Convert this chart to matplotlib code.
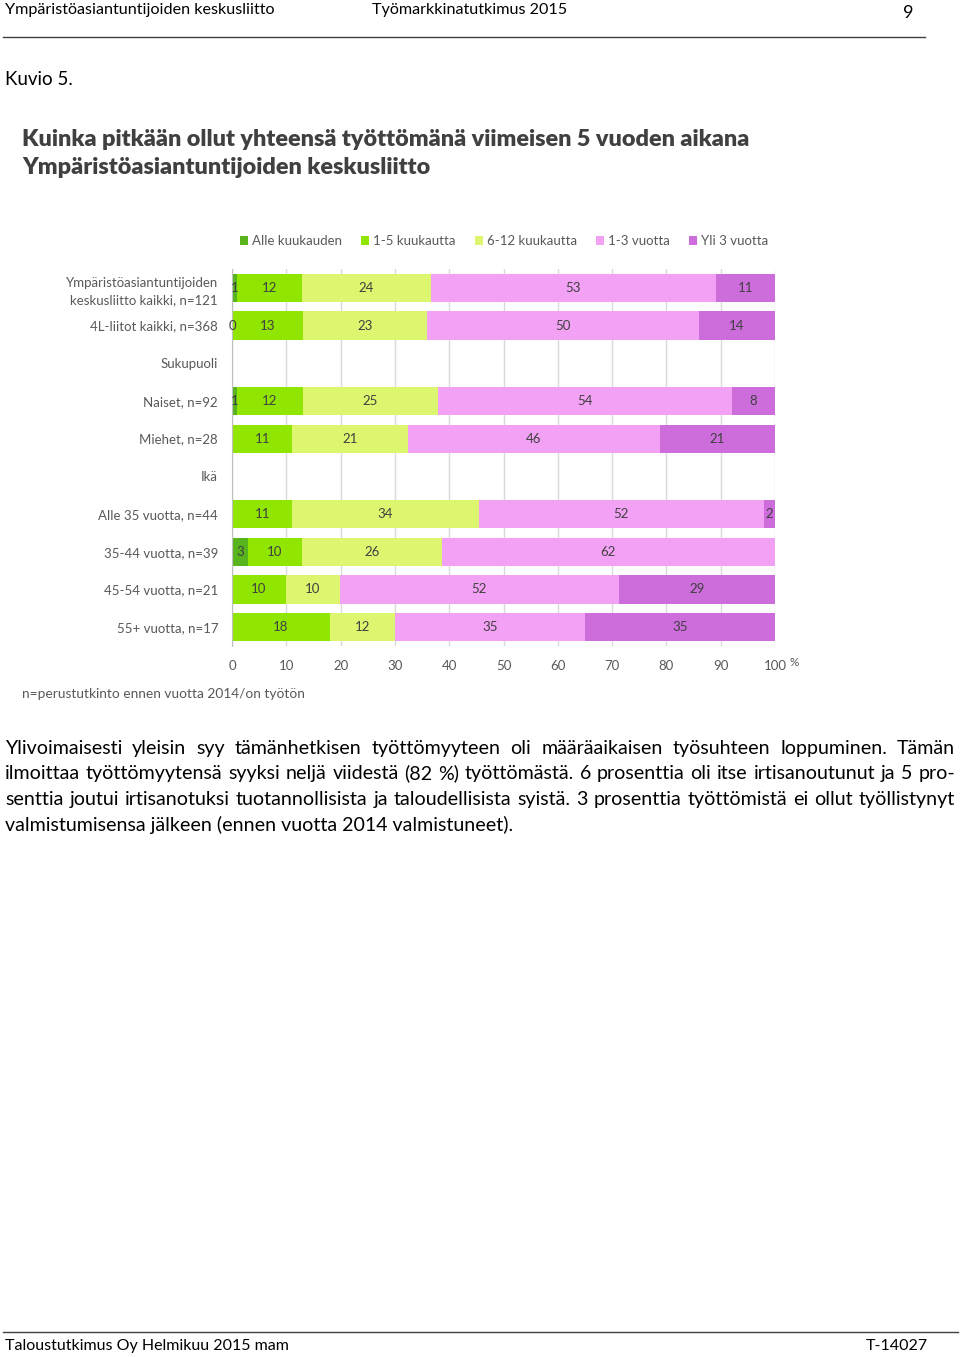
import matplotlib
matplotlib.use("Agg")
import matplotlib.pyplot as plt
from matplotlib.patches import Patch
from matplotlib.lines import Line2D
import numpy as np

plt.rcParams['font.family'] = ['Lato', 'DejaVu Sans']

# data, rows top to bottom; None = no segment / no label
rows = ["Ympäristöasiantuntijoiden\nkeskusliitto kaikki, n=121",
        "4L-liitot kaikki, n=368",
        "Sukupuoli",
        "Naiset, n=92",
        "Miehet, n=28",
        "Ikä",
        "Alle 35 vuotta, n=44",
        "35-44 vuotta, n=39",
        "45-54 vuotta, n=21",
        "55+ vuotta, n=17"]
series = ["Alle kuukauden", "1-5 kuukautta", "6-12 kuukautta", "1-3 vuotta", "Yli 3 vuotta"]
alle_kk = [1, 0, None, 1, None, None, None, 3, None, None]
kk_1_5 = [12, 13, None, 12, 11, None, 11, 10, 10, 18]
kk_6_12 = [24, 23, None, 25, 21, None, 34, 26, 10, 12]
v_1_3 = [53, 50, None, 54, 46, None, 52, 62, 52, 35]
yli_3 = [11, 14, None, 8, 21, None, 2, None, 29, 35]
colors = ["#58b41c", "#90e600", "#dcf76f", "#f2a1f4", "#cc6ddb"]
xticks = [0, 10, 20, 30, 40, 50, 60, 70, 80, 90, 100]

W, H = 960, 1357
fig = plt.figure(figsize=(W / 100, H / 100), dpi=100)

def fx(px):
    return px / W

def fy(py):
    return 1 - py / H

text_col = "#000000"
gray = "#595959"

# page header / footer
fig.text(fx(5), fy(14), "Ympäristöasiantuntijoiden keskusliitto", fontsize=11.6, va="baseline", color=text_col)
fig.text(fx(372), fy(14), "Työmarkkinatutkimus 2015", fontsize=11.6, va="baseline", color=text_col)
fig.text(fx(908), fy(18), "9", fontsize=13, va="baseline", ha="center", color=text_col)
fig.add_artist(Line2D([fx(3), fx(925)], [fy(37), fy(37)], color="#404040", lw=1))
fig.text(fx(5), fy(85), "Kuvio 5.", fontsize=13.5, va="baseline", color=text_col)

fig.add_artist(Line2D([fx(3), fx(958)], [fy(1332), fy(1332)], color="#404040", lw=1))
fig.text(fx(5), fy(1350), "Taloustutkimus Oy Helmikuu 2015 mam", fontsize=11.5, va="baseline", color=text_col)
fig.text(fx(928), fy(1350), "T-14027", fontsize=11.5, va="baseline", ha="right", color=text_col)

# chart title
title_col = "#404040"
fig.text(fx(22), fy(139), "Kuinka pitkään ollut yhteensä työttömänä viimeisen 5 vuoden aikana",
         fontsize=16.8, fontweight="heavy", va="center", color=title_col)
fig.text(fx(22), fy(167), "Ympäristöasiantuntijoiden keskusliitto",
         fontsize=16.8, fontweight="heavy", va="center", color=title_col)

# bars
ax = fig.add_axes([fx(232), fy(646), fx(775) - fx(232), fy(269) - fy(646)])
data = np.array([[np.nan if v is None else v for v in s]
                 for s in [alle_kk, kk_1_5, kk_6_12, v_1_3, yli_3]], dtype=float)
totals = np.nansum(data, axis=0)
y = np.arange(len(rows))
left = np.zeros(len(rows))
for i, name in enumerate(series):
    vals = data[i]
    pct = np.where(totals > 0, np.nan_to_num(vals) / np.where(totals > 0, totals, 1) * 100, 0)
    ax.barh(y, pct, left=left, height=0.75, color=colors[i], label=name, zorder=2)
    for j in range(len(rows)):
        if not np.isnan(vals[j]):
            ax.text(left[j] + pct[j] / 2, y[j], f"{int(vals[j])}", ha="center", va="center",
                    fontsize=9.5, color="#404040", zorder=3)
    left += pct

ax.set_xlim(0, 100)
ax.set_ylim(len(rows) - 0.5, -0.5)
ax.set_xticks(xticks)
ax.set_xticklabels([str(t) for t in xticks], fontsize=9.5, color=gray)
ax.set_yticks(y)
ax.set_yticklabels(rows, fontsize=9.5, color=gray, linespacing=1.5)
ax.tick_params(axis="x", length=0, pad=10)
ax.tick_params(axis="y", length=0, pad=10)
ax.grid(axis="x", color="#d9d9d9", lw=1, zorder=0)
for s in ["top", "right", "bottom"]:
    ax.spines[s].set_visible(False)
ax.spines["left"].set_color("#bfbfbf")
ax.set_axisbelow(True)
fig.text(fx(790), fy(663), "%", fontsize=8.5, color=gray, va="center")

handles = [Patch(facecolor=c, edgecolor="none") for c in colors]
fig.legend(handles, series, loc="center", bbox_to_anchor=(fx(504), fy(241)), ncol=5,
           frameon=False, fontsize=9.5, handlelength=0.6, handleheight=0.6,
           handletextpad=0.3, columnspacing=1.45, labelcolor=gray)

fig.text(fx(22), fy(694), "n=perustutkinto ennen vuotta 2014/on työtön", fontsize=9.9, color=gray, va="center")

# justified paragraph
para_lines = [
    "Ylivoimaisesti yleisin syy tämänhetkisen työttömyyteen oli määräaikaisen työsuhteen loppuminen. Tämän",
    "ilmoittaa työttömyytensä syyksi neljä viidestä (82 %) työttömästä. 6 prosenttia oli itse irtisanoutunut ja 5 pro-",
    "senttia joutui irtisanotuksi tuotannollisista ja taloudellisista syistä. 3 prosenttia työttömistä ei ollut työllistynyt",
    "valmistumisensa jälkeen (ennen vuotta 2014 valmistuneet).",
]
para_base = [754, 779, 805, 831]
para_fs = 14.1
x0, x1 = 5, 955
renderer = fig.canvas.get_renderer()
for k, line in enumerate(para_lines):
    if k == len(para_lines) - 1:
        fig.text(fx(x0), fy(para_base[k]), line, fontsize=para_fs, va="baseline", color=text_col)
        continue
    words = line.split(" ")
    objs = [fig.text(0, fy(para_base[k]), w, fontsize=para_fs, va="baseline", color=text_col) for w in words]
    widths = [o.get_window_extent(renderer).width for o in objs]
    gap = (x1 - x0 - sum(widths)) / (len(words) - 1)
    xpos = x0
    for o, w in zip(objs, widths):
        o.set_x(fx(xpos))
        xpos += w + gap

fig.savefig("out.png", dpi=100)
